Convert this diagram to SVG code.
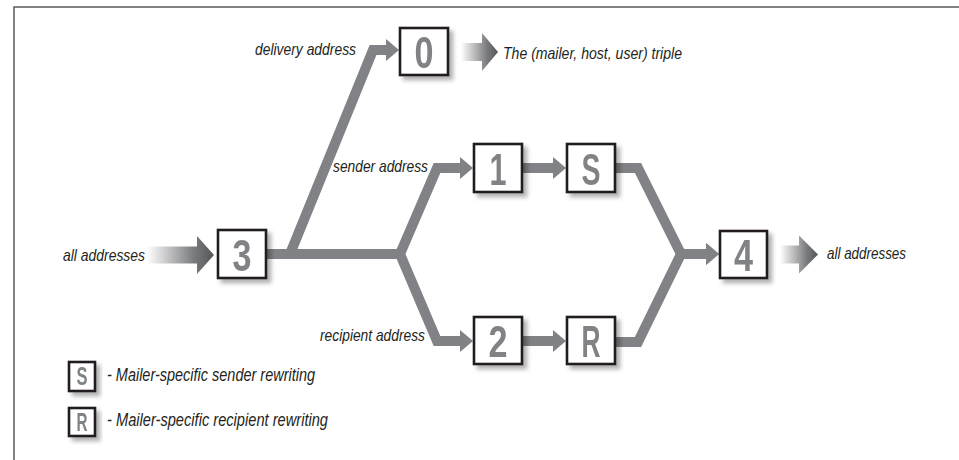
<svg xmlns="http://www.w3.org/2000/svg" width="959" height="460" viewBox="0 0 959 460">
<style>
.frame{fill:none;stroke:#58595b;stroke-width:1.5}
.box rect{fill:#fff;stroke:#231f20;stroke-width:2.6}
.box{filter:url(#shadow)}
.digit{font-family:"Liberation Sans",Arial,sans-serif;font-weight:bold;font-size:44px;fill:#808285;text-anchor:middle}
.ldigit{font-family:"Liberation Sans",Arial,sans-serif;font-weight:bold;font-size:25px;fill:#808285;text-anchor:middle}
.lbl{font-family:"Liberation Sans",Arial,sans-serif;font-style:italic;font-size:16.5px;fill:#231f20}
.leg{font-family:"Liberation Sans",Arial,sans-serif;font-style:italic;font-size:17.5px;fill:#231f20}
.conn{fill:none;stroke:#808285;stroke-width:10;stroke-linejoin:miter;stroke-miterlimit:10}
.garrow{fill:url(#grad);stroke:none}
</style>
<defs>
<filter id="shadow" x="-20%" y="-20%" width="150%" height="150%">
<feDropShadow dx="4" dy="4" stdDeviation="2" flood-color="#000" flood-opacity="0.3"/>
</filter>
<linearGradient id="grad" x1="0" y1="0" x2="1" y2="0">
<stop offset="0" stop-color="#ffffff"/>
<stop offset="0.7" stop-color="#7a7b7e"/>
<stop offset="1" stop-color="#545557"/>
</linearGradient>
<marker id="ah" markerUnits="userSpaceOnUse" markerWidth="14" markerHeight="24" refX="0" refY="12" orient="auto" overflow="visible">
<path d="M0,1 L13,12 L0,23 Z" fill="#808285"/>
</marker>
</defs>

<path class="frame" d="M14,460 V7 H959"/>

<g id="connectors">
<path class="conn" d="M267,254 H400 L437,168 H460" marker-end="url(#ah)"/>
<path class="conn" d="M267,254 H400 L437,341 H460" marker-end="url(#ah)"/>
<path class="conn" d="M290,254 L373,50 H386" marker-end="url(#ah)"/>
<path class="conn" d="M523,168 H553" marker-end="url(#ah)"/>
<path class="conn" d="M523,341 H553" marker-end="url(#ah)"/>
<path class="conn" d="M616,168 H638 L681,254 H706" marker-end="url(#ah)"/>
<path class="conn" d="M616,342 H638 L681,254 H706" marker-end="url(#ah)"/>
<path class="garrow" d="M147,246.5 H197 V236 L214,255 L197,274 V263.5 H147 Z"/>
<path class="garrow" d="M461,43 H482 V33 L498,52 L482,71 V61 H461 Z"/>
<path class="garrow" d="M780,245.5 H799 V235.5 L818,254.5 L799,273.5 V263.5 H780 Z"/>
</g>

<g id="node0" class="box"><rect x="400" y="28" width="48" height="47"/><text class="digit" x="424" y="68" textLength="19" lengthAdjust="spacingAndGlyphs">0</text></g>
<g id="node3" class="box"><rect x="218" y="230" width="48" height="48"/><text class="digit" x="242" y="271" textLength="19" lengthAdjust="spacingAndGlyphs">3</text></g>
<g id="node1" class="box"><rect x="474" y="144" width="48" height="48"/><text class="digit" x="498" y="185" textLength="17" lengthAdjust="spacingAndGlyphs">1</text></g>
<g id="nodeS" class="box"><rect x="567" y="144" width="48" height="48"/><text class="digit" x="591" y="185" textLength="19" lengthAdjust="spacingAndGlyphs">S</text></g>
<g id="node2" class="box"><rect x="474" y="317" width="48" height="47"/><text class="digit" x="498" y="357" textLength="19" lengthAdjust="spacingAndGlyphs">2</text></g>
<g id="nodeR" class="box"><rect x="567" y="317" width="48" height="47"/><text class="digit" x="591" y="357" textLength="19" lengthAdjust="spacingAndGlyphs">R</text></g>
<g id="node4" class="box"><rect x="720" y="231" width="47" height="47"/><text class="digit" x="743.5" y="271" textLength="19" lengthAdjust="spacingAndGlyphs">4</text></g>

<g id="legendS" class="box"><rect x="69" y="362" width="26" height="29"/><text class="ldigit" x="82" y="385" textLength="11" lengthAdjust="spacingAndGlyphs">S</text></g>
<g id="legendR" class="box"><rect x="69" y="408" width="26" height="28"/><text class="ldigit" x="82" y="431" textLength="11" lengthAdjust="spacingAndGlyphs">R</text></g>

<g id="labels">
<text class="lbl" x="255" y="55" textLength="101" lengthAdjust="spacingAndGlyphs">delivery address</text>
<text class="lbl" x="503" y="58.5" textLength="179" lengthAdjust="spacingAndGlyphs">The (mailer, host, user) triple</text>
<text class="lbl" x="333" y="172" textLength="95" lengthAdjust="spacingAndGlyphs">sender address</text>
<text class="lbl" x="320" y="341" textLength="105" lengthAdjust="spacingAndGlyphs">recipient address</text>
<text class="lbl" x="63" y="260.5" textLength="82" lengthAdjust="spacingAndGlyphs">all addresses</text>
<text class="lbl" x="827" y="259" textLength="79" lengthAdjust="spacingAndGlyphs">all addresses</text>
<text class="leg" x="107" y="381" textLength="208" lengthAdjust="spacingAndGlyphs">- Mailer-specific sender rewriting</text>
<text class="leg" x="107" y="426" textLength="221" lengthAdjust="spacingAndGlyphs">- Mailer-specific recipient rewriting</text>
</g>
</svg>
